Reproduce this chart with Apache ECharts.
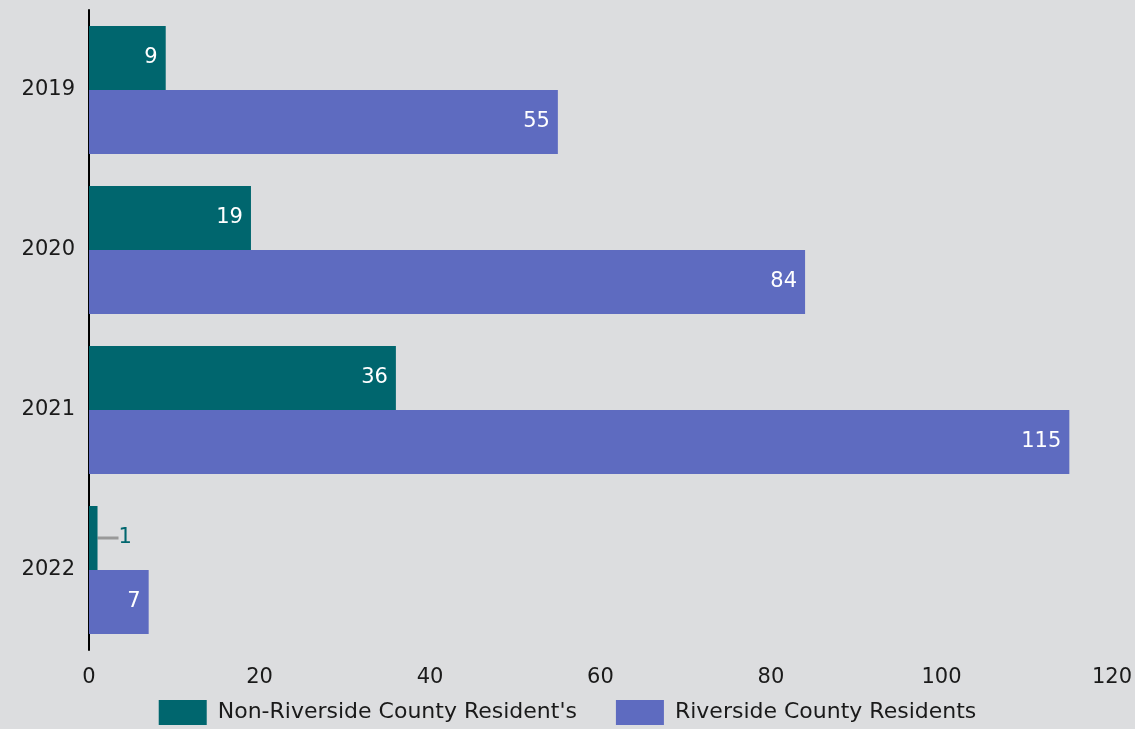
<!DOCTYPE html>
<html><head><meta charset="utf-8">
<script src="https://cdn.jsdelivr.net/npm/echarts@6/dist/echarts.min.js"></script>
<style>html,body{margin:0;padding:0;background:#dcdddf;}#c{width:1135px;height:729px;}</style>
</head><body><div id="c"></div>
<script>
const categories = ['2019', '2020', '2021', '2022'];
const nonRiverside = [9, 19, 36, 1];
const riverside = [55, 84, 115, 7];
const xTicks = [0, 20, 40, 60, 80, 100, 120];

const FONT = 'DejaVu Sans';
const chart = echarts.init(document.getElementById('c'));
chart.setOption({
  backgroundColor: '#dcdddf',
  textStyle: { fontFamily: FONT },
  grid: { left: 89, right: 20, top: 10, bottom: 79, containLabel: false },
  legend: {
    bottom: -1, left: 'center', itemWidth: 48, itemHeight: 25, itemGap: 39, icon: 'rect',
    textStyle: { fontSize: 22, color: '#1a1a1a', fontFamily: FONT, padding: [0, 0, 0, 6] },
    data: ["Non-Riverside County Resident's", 'Riverside County Residents']
  },
  xAxis: {
    type: 'value', min: xTicks[0], max: xTicks[xTicks.length - 1], interval: 20,
    axisLine: { show: false }, axisTick: { show: false }, splitLine: { show: false },
    axisLabel: { fontSize: 21, color: '#1a1a1a', margin: 17, fontFamily: FONT }
  },
  yAxis: {
    type: 'category', data: categories, inverse: true,
    axisLine: { show: true, lineStyle: { color: '#000', width: 2 } },
    axisTick: { show: false },
    axisLabel: { fontSize: 21, color: '#1a1a1a', margin: 14, fontFamily: FONT }
  },
  series: [
    {
      name: "Non-Riverside County Resident's", type: 'bar',
      data: nonRiverside.map(v => v < 3 ? {
        value: v,
        label: { position: 'right', color: '#00666e', distance: 3 },
        labelLine: { show: true, lineStyle: { color: '#999', width: 3 } }
      } : v),
      itemStyle: { color: '#00666e' },
      barGap: '0%', barCategoryGap: '20%',
      label: { show: true, position: 'insideRight', color: '#fff', fontSize: 21, distance: 8, fontFamily: FONT },
      labelLayout: function (p) { return p.dataIndex === 3 ? { dx: 18 } : {}; },
      labelLine: { show: false }
    },
    {
      name: 'Riverside County Residents', type: 'bar',
      data: riverside,
      itemStyle: { color: '#5e6bc0' },
      barGap: '0%', barCategoryGap: '20%',
      label: { show: true, position: 'insideRight', color: '#fff', fontSize: 21, distance: 8, fontFamily: FONT }
    }
  ]
});
</script></body></html>
